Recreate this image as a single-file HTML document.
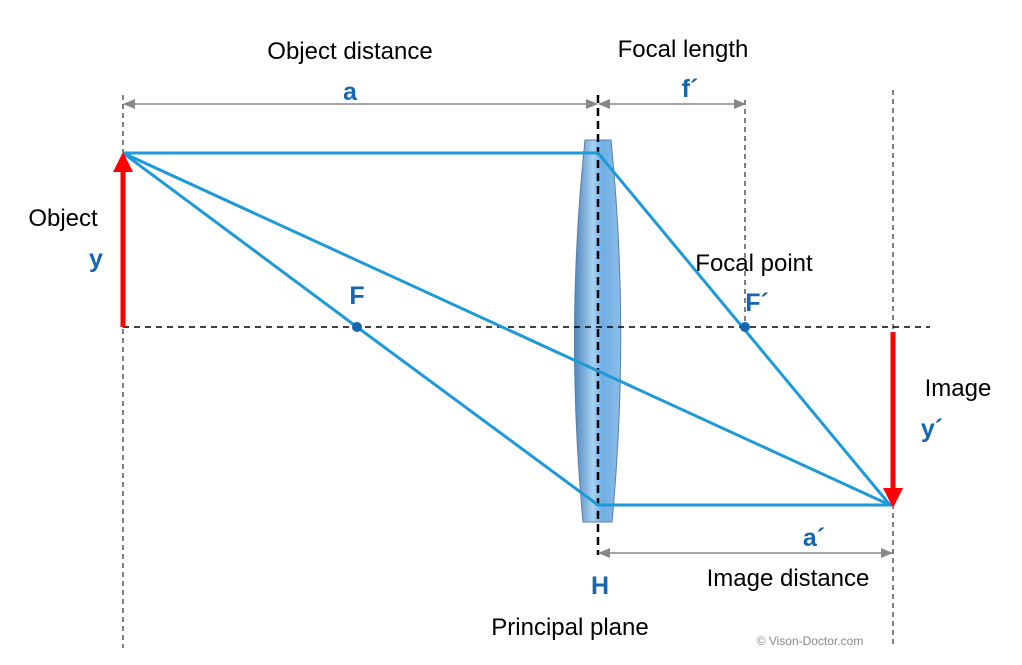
<!DOCTYPE html>
<html><head><meta charset="utf-8"><style>
html,body{margin:0;padding:0;background:#fff;}
svg{display:block;}
text{font-family:"Liberation Sans",sans-serif;}
.k{font-size:24px;fill:#000;}
.b{font-size:25px;fill:#1565b0;font-weight:bold;}
</style></head><body>
<svg width="1022" height="665" viewBox="0 0 1022 665" xmlns="http://www.w3.org/2000/svg">
<defs>
<linearGradient id="lg" x1="0" x2="1" y1="0" y2="0">
<stop offset="0" stop-color="#4f86bd"/><stop offset="0.4" stop-color="#a8d2f2"/><stop offset="0.6" stop-color="#6eaee4"/><stop offset="1" stop-color="#8cbde6"/>
</linearGradient>
<marker id="ar" markerWidth="12" markerHeight="10" refX="11" refY="5" orient="auto-start-reverse" markerUnits="userSpaceOnUse"><path d="M0,0 L12,5 L0,10 Z" fill="#888"/></marker>
</defs>
<g stroke="#000" stroke-width="1" stroke-dasharray="5,4" fill="none">
<line x1="123" y1="95" x2="123" y2="648"/>
<line x1="745" y1="100" x2="745" y2="327"/>
<line x1="893" y1="90" x2="893" y2="648"/>
</g>
<path d="M585,140 L611,140 Q630,330 612,522 L583,522 Q565,330 585,140 Z" fill="url(#lg)" stroke="#5a7fa8" stroke-width="1"/>
<line x1="123" y1="327" x2="930" y2="327" stroke="#000" stroke-width="1.5" stroke-dasharray="6,5"/>
<line x1="598" y1="95" x2="598" y2="555" stroke="#000" stroke-width="2.5" stroke-dasharray="8,5"/>
<g stroke="#888" stroke-width="1.5" fill="none">
<line x1="124" y1="104" x2="597" y2="104" marker-end="url(#ar)" marker-start="url(#ar)"/>
<line x1="599" y1="104" x2="745" y2="104" marker-end="url(#ar)" marker-start="url(#ar)"/>
<line x1="599" y1="553" x2="892" y2="553" marker-end="url(#ar)" marker-start="url(#ar)"/>
</g>
<g stroke="#1e9ad9" stroke-width="3" fill="none" stroke-linejoin="round">
<polyline points="123,153 598,153 890,505"/>
<line x1="123" y1="153" x2="890" y2="505"/>
<polyline points="123,153 357,327 598,505 893,505"/>
</g>
<circle cx="357" cy="327" r="5" fill="#1565b0"/>
<circle cx="745" cy="327" r="5" fill="#1565b0"/>
<line x1="123" y1="327" x2="123" y2="168" stroke="#f00" stroke-width="5"/>
<path d="M113,172 L123,152 L133,172 Z" fill="#f00"/>
<line x1="893" y1="332" x2="893" y2="490" stroke="#f00" stroke-width="5"/>
<path d="M883,488 L893,508 L903,488 Z" fill="#f00"/>
<text class="k" x="350" y="59" text-anchor="middle">Object distance</text>
<text class="b" x="350" y="100" text-anchor="middle">a</text>
<text class="k" x="683" y="57" text-anchor="middle">Focal length</text>
<text class="b" x="690" y="97" text-anchor="middle">f´</text>
<text class="k" x="63" y="226" text-anchor="middle">Object</text>
<text class="b" x="96" y="267" text-anchor="middle">y</text>
<text class="b" x="357" y="304" text-anchor="middle">F</text>
<text class="k" x="754" y="271" text-anchor="middle">Focal point</text>
<text class="b" x="757" y="311" text-anchor="middle">F´</text>
<text class="k" x="958" y="396" text-anchor="middle">Image</text>
<text class="b" x="932" y="437" text-anchor="middle">y´</text>
<text class="b" x="814" y="546" text-anchor="middle">a´</text>
<text class="k" x="788" y="586" text-anchor="middle">Image distance</text>
<text class="b" x="600" y="594" text-anchor="middle">H</text>
<text class="k" x="570" y="635" text-anchor="middle">Principal plane</text>
<text x="810" y="645" text-anchor="middle" font-size="12" fill="#888">© Vison-Doctor.com</text>
</svg>
</body></html>
